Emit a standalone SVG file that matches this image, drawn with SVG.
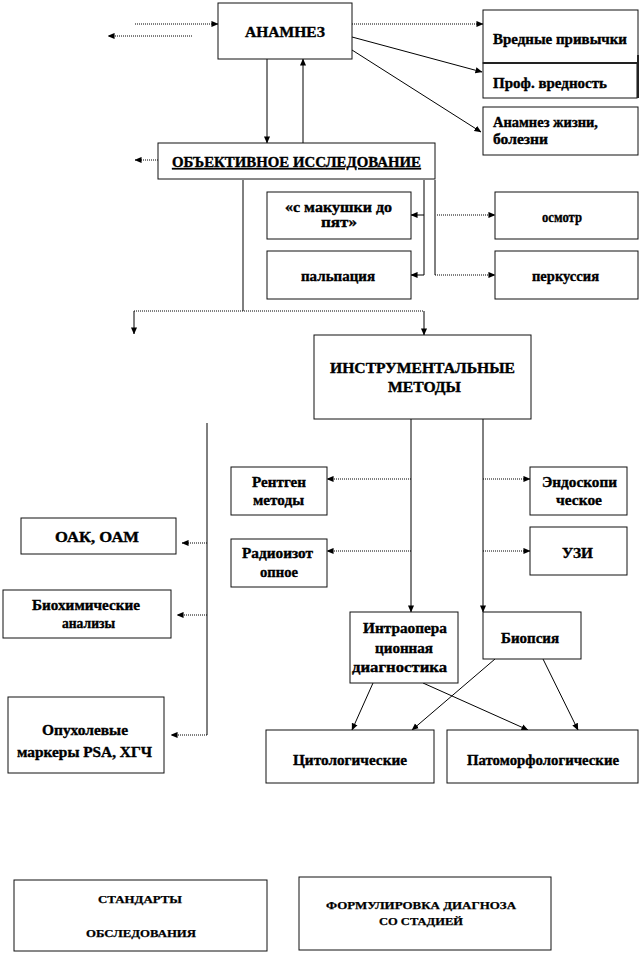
<svg xmlns="http://www.w3.org/2000/svg" width="642" height="955" viewBox="0 0 642 955" font-family="'Liberation Serif', 'DejaVu Serif', serif">
<defs>
<marker id="ah" viewBox="0 0 8 8" refX="7.5" refY="4" markerWidth="7" markerHeight="7" markerUnits="userSpaceOnUse" orient="auto">
<path d="M0,0.5 L8,4 L0,7.5 Z" fill="#000"/>
</marker>
<style>
.box{fill:#fff;stroke:#111;stroke-width:1}
text{font-family:'Liberation Serif','DejaVu Serif',serif;font-weight:bold;font-size:14px;fill:#000;stroke:#000;stroke-width:0.35}
.t{text-anchor:middle}
.tl{text-anchor:start}
.ts{font-size:10px;stroke-width:0.25}
.s{fill:none;stroke:#000;stroke-width:1}
.d{fill:none;stroke:#000;stroke-width:1;stroke-dasharray:1 1}
.a{marker-end:url(#ah)}
</style>
</defs>
<rect width="642" height="955" fill="#fff"/>

<g id="connectors">
<line class="d a" x1="135" y1="24" x2="218" y2="24"/>
<line class="d a" x1="192" y1="36" x2="108" y2="36"/>
<line class="d a" x1="352" y1="24" x2="483" y2="24"/>
<line class="s a" x1="352" y1="37" x2="482" y2="72"/>
<line class="s a" x1="352" y1="50" x2="481" y2="132"/>
<line class="s a" x1="267" y1="59" x2="267" y2="143"/>
<line class="s a" x1="303" y1="143" x2="303" y2="59"/>
<line class="d a" x1="158" y1="160" x2="135" y2="160"/>
<line class="s" x1="243" y1="180" x2="243" y2="311"/>
<line class="d" x1="134" y1="311" x2="424" y2="311"/>
<line class="s a" x1="134" y1="311" x2="134" y2="334"/>
<line class="s a" x1="424" y1="311" x2="424" y2="335"/>
<line class="s" x1="424" y1="180" x2="424" y2="275"/>
<line class="s a" x1="424" y1="215" x2="411" y2="215"/>
<line class="s a" x1="424" y1="275" x2="411" y2="275"/>
<line class="s" x1="435" y1="180" x2="435" y2="275"/>
<line class="d a" x1="437" y1="215" x2="495" y2="215"/>
<line class="d a" x1="435" y1="275" x2="495" y2="275"/>
<line class="s" x1="207" y1="423" x2="207" y2="735"/>
<line class="d a" x1="207" y1="543" x2="182" y2="543"/>
<line class="d a" x1="207" y1="615" x2="177" y2="615"/>
<line class="d a" x1="207" y1="735" x2="171" y2="735"/>
<line class="s a" x1="411" y1="419" x2="411" y2="612"/>
<line class="s a" x1="483" y1="419" x2="483" y2="612"/>
<line class="d a" x1="411" y1="479" x2="327" y2="479"/>
<line class="d a" x1="411" y1="551" x2="327" y2="551"/>
<line class="d a" x1="483" y1="479" x2="530" y2="479"/>
<line class="d a" x1="483" y1="551" x2="530" y2="551"/>
<line class="s a" x1="373" y1="683" x2="352" y2="730"/>
<line class="s a" x1="423" y1="683" x2="528" y2="730"/>
<line class="s a" x1="495" y1="659" x2="412" y2="730"/>
<line class="s a" x1="543" y1="659" x2="578" y2="730"/>
</g>

<g id="anamnez">
<rect class="box" x="218" y="3" width="134" height="56"/>
<text class="t" x="285" y="37" font-size="15" textLength="80" lengthAdjust="spacingAndGlyphs">АНАМНЕЗ</text>
</g>
<g id="vrednye">
<rect class="box" x="483" y="10" width="155" height="53"/>
<text class="tl" x="493" y="44" textLength="134" lengthAdjust="spacingAndGlyphs">Вредные привычки</text>
</g>
<g id="prof">
<rect class="box" x="483" y="63" width="154" height="35"/>
<line x1="483" y1="63" x2="638" y2="63" stroke="#222" stroke-width="2"/>
<line x1="638" y1="55" x2="638" y2="98" stroke="#222" stroke-width="2"/>
<text class="tl" x="493" y="88" textLength="114" lengthAdjust="spacingAndGlyphs">Проф.  вредность</text>
</g>
<g id="anamnez-zhizni">
<rect class="box" x="483" y="107" width="155" height="48"/>
<text class="tl" x="493" y="127" textLength="105" lengthAdjust="spacingAndGlyphs">Анамнез жизни,</text>
<text class="tl" x="493" y="144" textLength="55" lengthAdjust="spacingAndGlyphs">болезни</text>
</g>
<g id="objective">
<rect class="box" x="158" y="143" width="277" height="36"/>
<text class="t" x="296.5" y="167" textLength="249" lengthAdjust="spacingAndGlyphs" text-decoration="underline">ОБЪЕКТИВНОЕ ИССЛЕДОВАНИЕ</text>
</g>
<g id="makushki">
<rect class="box" x="267" y="192" width="144" height="47"/>
<text class="t" x="338.5" y="212" textLength="107" lengthAdjust="spacingAndGlyphs">«с макушки до</text>
<text class="t" x="339" y="227" textLength="36" lengthAdjust="spacingAndGlyphs">пят»</text>
</g>
<g id="palpaciya">
<rect class="box" x="267" y="251" width="144" height="48"/>
<text class="t" x="338" y="281" textLength="74" lengthAdjust="spacingAndGlyphs">пальпация</text>
</g>
<g id="osmotr">
<rect class="box" x="495" y="192" width="143" height="47"/>
<text class="t" x="562" y="222" textLength="40" lengthAdjust="spacingAndGlyphs">осмотр</text>
</g>
<g id="perkussiya">
<rect class="box" x="495" y="251" width="143" height="48"/>
<text class="t" x="565.5" y="281" textLength="67" lengthAdjust="spacingAndGlyphs">перкуссия</text>
</g>
<g id="instrumental">
<rect class="box" x="314" y="335" width="217" height="84"/>
<text class="t" x="422.5" y="373" textLength="185" lengthAdjust="spacingAndGlyphs">ИНСТРУМЕНТАЛЬНЫЕ</text>
<text class="t" x="424.5" y="392" textLength="73" lengthAdjust="spacingAndGlyphs">МЕТОДЫ</text>
</g>
<g id="rentgen">
<rect class="box" x="231" y="467" width="96" height="48"/>
<text class="t" x="279" y="487" textLength="54" lengthAdjust="spacingAndGlyphs">Рентген</text>
<text class="t" x="278.5" y="505" textLength="51" lengthAdjust="spacingAndGlyphs">методы</text>
</g>
<g id="radioizotop">
<rect class="box" x="231" y="539" width="96" height="48"/>
<text class="t" x="277.5" y="558" textLength="71" lengthAdjust="spacingAndGlyphs">Радиоизот</text>
<text class="t" x="279" y="577" textLength="38" lengthAdjust="spacingAndGlyphs">опное</text>
</g>
<g id="endoskop">
<rect class="box" x="530" y="467" width="97" height="48"/>
<text class="t" x="579.5" y="487" textLength="75" lengthAdjust="spacingAndGlyphs">Эндоскопи</text>
<text class="t" x="579" y="505" textLength="46" lengthAdjust="spacingAndGlyphs">ческое</text>
</g>
<g id="uzi">
<rect class="box" x="530" y="527" width="97" height="48"/>
<text class="t" x="577.5" y="558" textLength="31" lengthAdjust="spacingAndGlyphs">УЗИ</text>
</g>
<g id="oak">
<rect class="box" x="21" y="518" width="155" height="36"/>
<text class="t" x="97" y="542" textLength="84" lengthAdjust="spacingAndGlyphs">ОАК, ОАМ</text>
</g>
<g id="biochem">
<rect class="box" x="3" y="590" width="168" height="48"/>
<text class="t" x="86" y="610" textLength="108" lengthAdjust="spacingAndGlyphs">Биохимические</text>
<text class="t" x="88.5" y="628" textLength="53" lengthAdjust="spacingAndGlyphs">анализы</text>
</g>
<g id="markers">
<rect class="box" x="8" y="697" width="156" height="76"/>
<text class="t" x="85" y="735" textLength="86" lengthAdjust="spacingAndGlyphs">Опухолевые</text>
<text class="t" x="84.5" y="757" textLength="135" lengthAdjust="spacingAndGlyphs">маркеры PSA, ХГЧ</text>
</g>
<g id="intraop">
<rect class="box" x="350" y="612" width="108" height="71"/>
<text class="t" x="405" y="633" textLength="84" lengthAdjust="spacingAndGlyphs">Интраопера</text>
<text class="t" x="404" y="653" textLength="58" lengthAdjust="spacingAndGlyphs">ционная</text>
<text class="t" x="399.5" y="672" textLength="95" lengthAdjust="spacingAndGlyphs">диагностика</text>
</g>
<g id="biopsy">
<rect class="box" x="483" y="612" width="98" height="47"/>
<text class="t" x="530" y="643" textLength="58" lengthAdjust="spacingAndGlyphs">Биопсия</text>
</g>
<g id="cyto">
<rect class="box" x="266" y="730" width="168" height="53"/>
<text class="t" x="350" y="765" textLength="114" lengthAdjust="spacingAndGlyphs">Цитологические</text>
</g>
<g id="pato">
<rect class="box" x="447" y="730" width="191" height="53"/>
<text class="t" x="543" y="765" textLength="152" lengthAdjust="spacingAndGlyphs">Патоморфологические</text>
</g>
<g id="standards">
<rect class="box" x="14" y="880" width="253" height="71"/>
<text class="t ts" x="140" y="903" textLength="84" lengthAdjust="spacingAndGlyphs">СТАНДАРТЫ</text>
<text class="t ts" x="141" y="937" textLength="110" lengthAdjust="spacingAndGlyphs">ОБСЛЕДОВАНИЯ</text>
</g>
<g id="formulirovka">
<rect class="box" x="299" y="877" width="252" height="73"/>
<text class="t ts" x="421" y="909" textLength="190" lengthAdjust="spacingAndGlyphs">ФОРМУЛИРОВКА  ДИАГНОЗА</text>
<text class="t ts" x="421" y="925" textLength="84" lengthAdjust="spacingAndGlyphs">СО СТАДИЕЙ</text>
</g>
</svg>
